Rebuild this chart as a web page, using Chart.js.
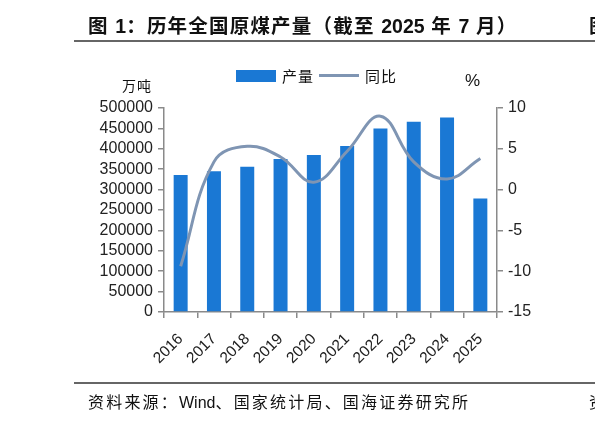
<!DOCTYPE html>
<html>
<head>
<meta charset="utf-8">
<script src="https://cdn.jsdelivr.net/npm/chart.js@4"></script>
<style>
    html, body { margin: 0; padding: 0; background: #fff; }
    body { width: 595px; height: 424px; position: relative; overflow: hidden; font-family: "Liberation Sans", "Noto Sans CJK SC", sans-serif; color: #111; }
    #chart { position: absolute; left: 0; top: 0; }
    .abs { position: absolute; white-space: nowrap; }
    .abs .lat { letter-spacing: 0; }
    .title { left: 88px; top: 10px; font-size: 19.5px; font-weight: bold; letter-spacing: 1.2px; }
    .rule { position: absolute; left: 74px; right: 0; height: 2px; background: #666; }
    .legend { top: 65px; left: 236px; font-size: 15px; display: flex; align-items: center; }
    .legend .box { width: 40px; height: 12px; background: #1a78d4; display: inline-block; }
    .legend .ln { width: 40px; height: 3px; background: #7f95b3; display: inline-block; }
    .legend span.t { margin: 0 5px 0 6px; letter-spacing: 1px; }
    .unit { font-size: 14px; letter-spacing: 1px; }
    .src { left: 88px; top: 389px; font-size: 16px; letter-spacing: 2.2px; }
</style>
</head>
<body>
<canvas id="chart" width="595" height="424"></canvas>

<div class="abs title">图 <span class="lat">1</span>：历年全国原煤产量（截至 <span class="lat">2025</span> 年 <span class="lat">7</span> 月）</div>
<div class="abs title" style="left:589px">图</div>
<div class="rule" style="top:40px"></div>

<div class="abs legend"><span class="box"></span><span class="t">产量</span><span class="ln"></span><span class="t">同比</span></div>
<div class="abs unit" style="left:122px; top:75px">万吨</div>
<div class="abs unit" style="left:465px; top:71px; font-size:17px">%</div>

<div class="rule" style="top:382px"></div>
<div class="abs src">资料来源：<span class="lat">Wind</span>、国家统计局、国海证券研究所</div>
<div class="abs src" style="left:589px">资</div>

<script>
// Dữ liệu: năm, sản lượng (万吨), tăng trưởng (%)
const years = ["2016", "2017", "2018", "2019", "2020", "2021", "2022", "2023", "2024", "2025"];
const output = [336000, 345000, 356000, 375000, 384500, 407000, 449500, 466500, 477000, 278000];
const growth = [-9.4, 3.4, 5.3, 4.0, 0.9, 4.7, 9.0, 3.4, 1.3, 3.8];

const leftTicks = { min: 0, max: 500000, step: 50000 };
const rightTicks = { min: -15, max: 10, step: 5 };

const xFont = { family: "'Liberation Sans', Arial, sans-serif", size: 15.5 };
const yFont = { family: "'Liberation Sans', Arial, sans-serif", size: 16 };
const axisColor = "#8a8a8a";

const ctx = document.getElementById("chart").getContext("2d");
const coalChart = new Chart(ctx, {
    type: "bar",
    data: {
        labels: years,
        datasets: [
            {
                type: "line",
                label: "同比",
                data: growth,
                yAxisID: "y1",
                borderColor: "#7f95b3",
                borderWidth: 3,
                pointRadius: 0,
                tension: 0.4,
                order: 0,
            },
            {
                type: "bar",
                label: "产量",
                data: output,
                yAxisID: "y",
                backgroundColor: "#1a78d4",
                categoryPercentage: 1,
                barPercentage: 0.42,
                order: 1,
            },
        ]
    },
    options: {
        responsive: false,
        animation: false,
        layout: { padding: { top: 108, left: 0, right: 0, bottom: 0 } },
        plugins: { legend: { display: false }, tooltip: { enabled: false } },
        scales: {
            x: {
                offset: true,
                border: { display: true, color: axisColor, width: 1.5 },
                grid: { display: true, drawOnChartArea: false, offset: true, color: axisColor, tickLength: 6, lineWidth: 1.5 },
                ticks: { color: "#222", font: xFont, maxRotation: 45, minRotation: 45, padding: 12 },
                afterFit: function (scale) { scale.height = 424 - 312; },
            },
            y: {
                position: "left",
                min: leftTicks.min,
                max: leftTicks.max,
                border: { display: true, color: axisColor, width: 1.5 },
                grid: { drawOnChartArea: false, color: axisColor, tickLength: 6, lineWidth: 1.5 },
                ticks: {
                    stepSize: leftTicks.step, autoSkip: false, color: "#222", font: yFont, padding: 5,
                    callback: function (value) { return String(value); },
                },
                afterFit: function (scale) { scale.width = 164; },
            },
            y1: {
                position: "right",
                min: rightTicks.min,
                max: rightTicks.max,
                border: { display: true, color: axisColor, width: 1.5 },
                grid: { drawOnChartArea: false, color: axisColor, tickLength: 6, lineWidth: 1.5 },
                ticks: { stepSize: rightTicks.step, autoSkip: false, color: "#222", font: yFont, padding: 5 },
                afterFit: function (scale) { scale.width = 595 - 497; },
            },
        },
    },
});
</script>
</body>
</html>
